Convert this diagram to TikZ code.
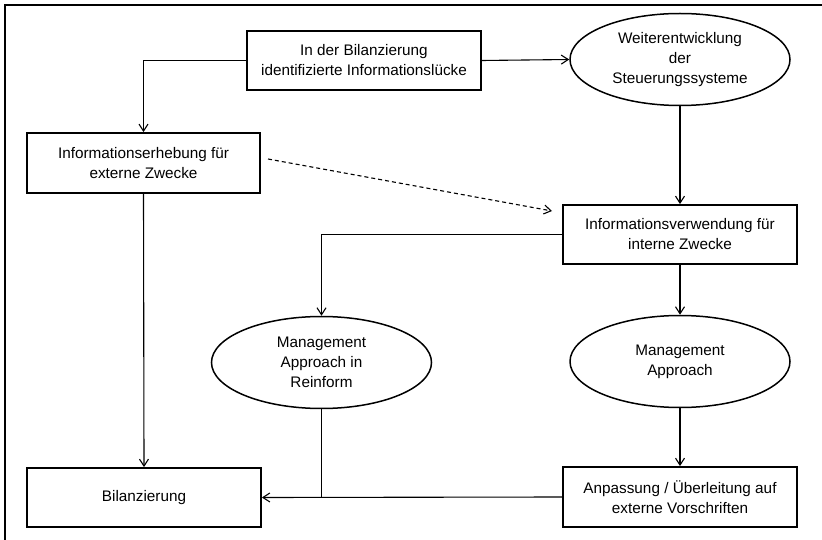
\documentclass[tikz,border=0pt]{standalone}
\usepackage{fontspec}
\setmainfont{Liberation Sans}
\usetikzlibrary{shapes.geometric,arrows.meta}
\begin{document}
\begin{tikzpicture}[x=1pt,y=-1pt,
  every node/.style={font=\fontsize{15.3}{20}\selectfont, align=center, inner sep=0pt},
  box/.style={draw, line width=1.8pt, rectangle, minimum width=234pt, minimum height=59pt},
  oval/.style={draw, line width=1.5pt, ellipse, minimum width=220pt, minimum height=92pt},
  link/.style={line width=1.1pt},
  arr/.style={link, -{Straight Barb[length=7pt,width=9pt,line width=1.1pt]}},
  dasharr/.style={arr, dash pattern=on 4pt off 3pt}
]
\useasboundingbox (0,0) rectangle (822,540);

% frame
\draw[line width=1.5pt] (5,540) -- (5,5) -- (822,5);

% nodes
\node[box]  (A)  at (364,60.5)  {In der Bilanzierung\\identifizierte Informationslücke};
\node[oval] (W)  at (680,59.5)  {Weiterentwicklung\\der\\Steuerungssysteme};
\node[box, minimum width=233pt, minimum height=60pt] (B) at (143.5,163) {Informationserhebung für\\externe Zwecke};
\node[box]  (C)  at (680,234.5) {Informationsverwendung für\\interne Zwecke};
\node[oval] (MR) at (321.5,362.5) {Management\\Approach in\\Reinform};
\node[oval] (MA) at (680,361.5) {Management\\Approach};
\node[box, minimum height=60pt] (D) at (680,497) {Anpassung / Überleitung auf\\externe Vorschriften};
\node[box]  (E)  at (144,497.5) {Bilanzierung};

\coordinate (ds) at (268,159);
\coordinate (de) at (552,211);

% connectors
\draw[arr] (A.west) -| (B.north);
\draw[arr] (A.east) -- (W.west);
\draw[arr] (W.south) -- (C.north);
\draw[dasharr] (ds) -- (de);
\draw[arr] (C.west) -| (MR.north);
\draw[arr] (C.south) -- (MA.north);
\draw[arr] (MA.south) -- (D.north);
\draw[arr] (B.south) -- (E.north);
\draw[arr] (D.west) -- (E.east);
\draw[link] (MR.south) -- (MR.south |- D.west);
\end{tikzpicture}
\end{document}
